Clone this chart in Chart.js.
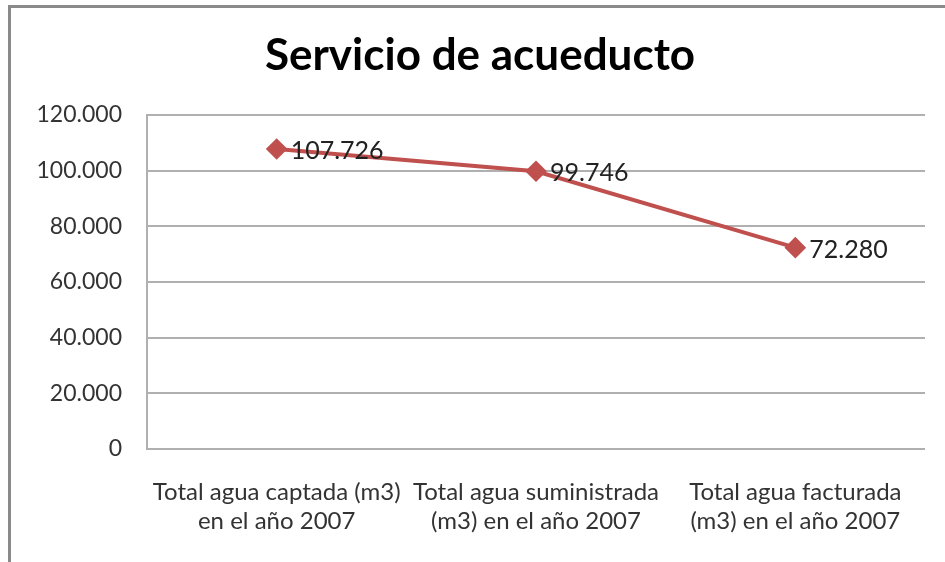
<!DOCTYPE html>
<html>
<head>
<meta charset="utf-8">
<script src="https://cdn.jsdelivr.net/npm/chart.js@4/dist/chart.umd.min.js"></script>
<style>
  html, body { margin: 0; padding: 0; background: #fff; }
  #wrap { position: relative; width: 945px; height: 562px; }
  #wrap canvas { position: absolute; left: 0; top: 0; }
  .edge-top { position: absolute; left: 8px; top: 5px; width: 937px; height: 3px; background: #8a8a8a; }
  .edge-left { position: absolute; left: 8px; top: 5px; width: 3px; height: 557px; background: #8a8a8a; }
</style>
</head>
<body>
<div id="wrap">
  <canvas id="chart" width="945" height="562"></canvas>
  <div class="edge-top"></div>
  <div class="edge-left"></div>
</div>
<script>
  // values
  var categories = [
    ["Total agua captada (m3)", "en el año 2007"],
    ["Total agua suministrada", "(m3) en el año 2007"],
    ["Total agua facturada", "(m3) en el año 2007"]
  ];
  var volumes = [107726, 99746, 72280];
  var yTicks = [0, 20000, 40000, 60000, 80000, 100000, 120000];

  var FONT = "Lato, 'Open Sans', sans-serif";
  var RED = "#C0504D";
  var GRID = "#b0b0b0";

  // thousands separated with "." as in the original
  function fmt(v) {
    return String(Math.round(v)).replace(/\B(?=(\d{3})+(?!\d))/g, ".");
  }

  // value labels to the right of each marker
  var valueLabels = {
    id: "valueLabels",
    afterDatasetsDraw: function (chart) {
      var ctx = chart.ctx;
      var meta = chart.getDatasetMeta(0);
      ctx.save();
      ctx.font = "25px " + FONT;
      ctx.fillStyle = "#222";
      ctx.textAlign = "left";
      ctx.textBaseline = "middle";
      meta.data.forEach(function (pt, i) {
        ctx.fillText(fmt(chart.data.datasets[0].data[i]), pt.x + 14, pt.y + 2);
      });
      ctx.restore();
    }
  };

  new Chart(document.getElementById("chart"), {
    type: "line",
    data: {
      labels: categories,
      datasets: [{
        data: volumes,
        borderColor: RED,
        backgroundColor: RED,
        borderWidth: 4,
        pointStyle: "rectRot",
        pointRadius: 8,
        pointHoverRadius: 8,
        tension: 0
      }]
    },
    options: {
      responsive: false,
      animation: false,
      layout: { padding: { left: 35, right: 20, top: 0, bottom: 0 } },
      plugins: {
        legend: { display: false },
        tooltip: { enabled: false },
        title: {
          display: true,
          text: "Servicio de acueducto",
          color: "#000",
          font: { family: FONT, size: 44, weight: "bold" },
          padding: { top: 29, bottom: 33 }
        }
      },
      scales: {
        x: {
          offset: true,
          grid: { display: false, drawTicks: false },
          border: { display: false },
          ticks: {
            color: "#333",
            padding: 29,
            maxRotation: 0,
            autoSkip: false,
            font: { family: FONT, size: 24, lineHeight: 1.2 }
          },
          afterFit: function (s) { s.height = 113; }
        },
        y: {
          min: 0,
          max: 120000,
          afterBuildTicks: function (s) { s.ticks = yTicks.map(function (v) { return { value: v }; }); },
          grid: { color: GRID, lineWidth: 2, drawTicks: false },
          border: { display: true, color: GRID, width: 2 },
          ticks: {
            color: "#333",
            padding: 25,
            font: { family: FONT, size: 23 },
            callback: function (v) { return fmt(v); }
          },
          afterFit: function (s) { s.width = 112; }
        }
      }
    },
    plugins: [valueLabels]
  });
</script>
</body>
</html>
